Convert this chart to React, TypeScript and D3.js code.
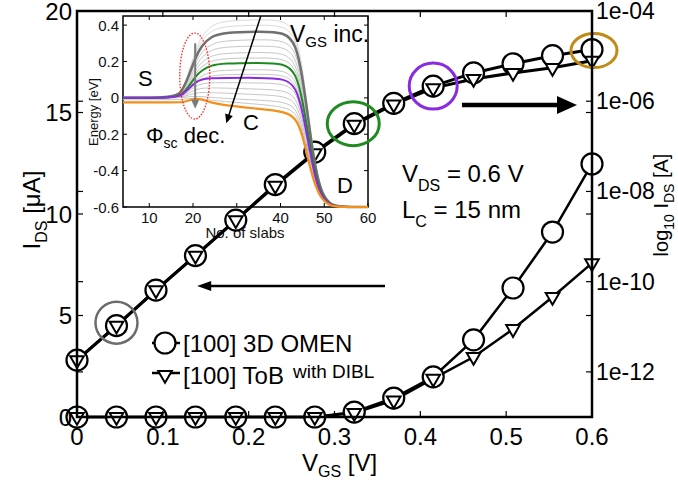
import React from 'react';
import * as d3 from 'd3';

// ---------- main chart data ----------
const vgs = [0, 0.046, 0.092, 0.138, 0.185, 0.231, 0.277, 0.323, 0.369, 0.415, 0.462, 0.508, 0.554, 0.6];
const omenLin = [2.8, 4.5, 6.25, 7.95, 9.7, 11.45, 13.05, 14.45, 15.45, 16.3, 16.95, 17.4, 17.8, 18.1];
const tobLin = [2.8, 4.5, 6.25, 7.95, 9.7, 11.4, 13.0, 14.4, 15.4, 16.2, 16.65, 16.95, 17.2, 17.55];
// log10 of I_DS [A]
const omenLog = [-13, -13, -13, -13, -13, -13, -13, -12.89, -12.58, -12.11, -11.29, -10.14, -8.9, -7.39];
const tobLog = [-13, -13, -13, -13, -13, -13, -13, -12.91, -12.63, -12.15, -11.67, -11.05, -10.34, -9.59];

const xTicks = [0, 0.1, 0.2, 0.3, 0.4, 0.5, 0.6];
const xTickLabels = ['0', '0.1', '0.2', '0.3', '0.4', '0.5', '0.6'];
const leftTicks = [0, 5, 10, 15, 20];
const rightTicks = [1e-4, 1e-6, 1e-8, 1e-10, 1e-12];
const rightTickLabels = ['1e-04', '1e-06', '1e-08', '1e-10', '1e-12'];

// ---------- inset data (energy band profiles) ----------
const slabN = [4, 16, 17.5, 19, 20.5, 22, 24, 27, 35, 41, 43.5, 45, 46.5, 48, 49.5, 51.5, 54, 60];
const grayCurves = [
  [0, 0, 0.043, 0.138, 0.258, 0.34, 0.396, 0.424, 0.43, 0.428, 0.358, 0.172, -0.116, -0.384, -0.528, -0.59, -0.6, -0.6],
  [0, 0, 0.04, 0.128, 0.24, 0.316, 0.368, 0.394, 0.4, 0.398, 0.33, 0.15, -0.13, -0.39, -0.53, -0.59, -0.6, -0.6],
  [0, 0, 0.032, 0.102, 0.192, 0.253, 0.294, 0.315, 0.32, 0.318, 0.256, 0.09, -0.168, -0.407, -0.536, -0.591, -0.6, -0.6],
  [0, 0, 0.029, 0.091, 0.171, 0.225, 0.262, 0.281, 0.285, 0.283, 0.223, 0.064, -0.184, -0.414, -0.538, -0.591, -0.6, -0.6],
  [0, 0, 0.025, 0.08, 0.15, 0.198, 0.23, 0.246, 0.25, 0.248, 0.19, 0.038, -0.2, -0.422, -0.54, -0.592, -0.6, -0.6],
  [0, 0, 0.022, 0.07, 0.132, 0.174, 0.202, 0.217, 0.22, 0.218, 0.163, 0.015, -0.215, -0.428, -0.543, -0.592, -0.6, -0.6],
  [0, 0, 0.016, 0.05, 0.093, 0.122, 0.143, 0.153, 0.155, 0.153, 0.102, -0.034, -0.245, -0.441, -0.547, -0.592, -0.6, -0.6],
  [0, 0, 0.013, 0.042, 0.078, 0.103, 0.12, 0.128, 0.13, 0.128, 0.079, -0.053, -0.257, -0.447, -0.549, -0.593, -0.6, -0.6],
  [0, 0, 0.01, 0.035, 0.065, 0.078, 0.083, 0.084, 0.082, 0.078, 0.036, -0.086, -0.278, -0.456, -0.552, -0.593, -0.6, -0.6],
  [0, 0, 0.008, 0.025, 0.045, 0.053, 0.055, 0.054, 0.048, 0.042, 0.005, -0.11, -0.294, -0.463, -0.554, -0.594, -0.6, -0.6],
  [0, 0, 0.005, 0.015, 0.026, 0.03, 0.029, 0.026, 0.018, 0.01, -0.025, -0.135, -0.31, -0.47, -0.556, -0.594, -0.6, -0.6],
  [0, 0, 0.002, 0.006, 0.008, 0.007, 0.003, -0.003, -0.012, -0.022, -0.055, -0.16, -0.33, -0.478, -0.558, -0.595, -0.6, -0.6],
  [-0.01, -0.01, -0.008, -0.004, -0.003, -0.006, -0.012, -0.02, -0.035, -0.05, -0.08, -0.18, -0.345, -0.484, -0.56, -0.595, -0.6, -0.6],
];
const darkGrayCurve = [0, 0, 0.037, 0.117, 0.219, 0.288, 0.336, 0.36, 0.365, 0.363, 0.297, 0.124, -0.146, -0.397, -0.532, -0.59, -0.6, -0.6];
const greenCurve = [0, 0, 0.019, 0.062, 0.116, 0.152, 0.178, 0.19, 0.193, 0.191, 0.137, -0.005, -0.227, -0.433, -0.544, -0.592, -0.6, -0.6];
const purpleCurve = [0, 0, 0.015, 0.05, 0.085, 0.103, 0.109, 0.11, 0.11, 0.108, 0.06, -0.068, -0.266, -0.451, -0.55, -0.593, -0.6, -0.6];
const orangeCurve = [-0.025, -0.025, -0.024, -0.015, -0.003, -0.008, -0.025, -0.04, -0.06, -0.075, -0.11, -0.2, -0.36, -0.49, -0.562, -0.596, -0.6, -0.6];
const insetXTicks = [10, 20, 30, 40, 50, 60];
const insetYTicks = [0.4, 0.2, 0, -0.2, -0.4, -0.6];
const insetYTickLabels = ['0.4', '0.2', '0', '-0.2', '-0.4', '-0.6'];

const FF = "'Liberation Sans', Arial, Helvetica, sans-serif";

function arrowParts(x1: number, y1: number, x2: number, y2: number, len: number, hw: number) {
  const dx = x2 - x1, dy = y2 - y1;
  const L = Math.hypot(dx, dy);
  const ux = dx / L, uy = dy / L;
  const bx = x2 - ux * len, by = y2 - uy * len;
  const px = -uy * hw, py = ux * hw;
  return {
    line: { x1, y1, x2: bx + ux * 1, y2: by + uy * 1 },
    head: `M${x2},${y2}L${bx + px},${by + py}L${bx - px},${by - py}Z`,
  };
}

export default function App() {
  const x = d3.scaleLinear().domain([0, 0.6]).range([77, 592]);
  const yL = d3.scaleLinear().domain([0, 20]).range([417, 11]);
  const yR = d3.scaleLog().domain([1e-13, 1e-4]).range([417, 11]);

  const xi = d3.scaleLinear().domain([4, 60]).range([123, 368]);
  const yi = d3.scaleLinear().domain([-0.6, 0.45]).range([207, 16]);

  const linLine = d3.line<number>().x((_, i) => x(vgs[i])).y((d) => yL(d));
  const logLine = d3.line<number>().x((_, i) => x(vgs[i])).y((d) => yR(Math.pow(10, d)));
  const bandLine = d3.line<number>().x((_, i) => xi(slabN[i])).y((d) => yi(d)).curve(d3.curveBasis);

  const tri = d3.symbol().type(d3.symbolTriangle).size(80)() as string;

  const circles = (vals: number[], yf: (v: number) => number, key: string) =>
    vals.map((v, i) => (
      <circle key={key + i} cx={x(vgs[i])} cy={yf(v)} r={10.5} fill="white" stroke="black" strokeWidth={2.2} />
    ));
  const tris = (vals: number[], yf: (v: number) => number, key: string) =>
    vals.map((v, i) => (
      <path key={key + i} d={tri} transform={`translate(${x(vgs[i])},${yf(v)}) rotate(180)`} fill="white" stroke="black" strokeWidth={2} />
    ));
  const yLog = (v: number) => yR(Math.pow(10, v));

  // annotation arrows (data coordinates)
  const rightArrow = arrowParts(x(0.4485), yL(15.37), x(0.5825), yL(15.37), 20, 9);
  const leftArrow = arrowParts(x(0.3588), yL(6.45), x(0.14), yL(6.45), 14, 5);
  const incArrow = arrowParts(xi(35.5), yi(0.45), xi(27.6), yi(-0.14), 9, 4);
  const grayArrow = arrowParts(xi(20.5), yi(0.3), xi(20.5), yi(-0.06), 9, 4);

  return (
    <svg width={678} height={480} style={{ position: 'absolute', left: 0, top: 0 }} fontFamily={FF}>
      <rect width={678} height={480} fill="white" />

      {/* ---------- inset axes and labels (under main data) ---------- */}
      <g>
        <rect x={xi(4)} y={yi(0.45)} width={xi(60) - xi(4)} height={yi(-0.6) - yi(0.45)} fill="none" stroke="black" strokeWidth={1.5} />
        {insetXTicks.map((t) => (
          <g key={'ixt' + t}>
            <line x1={xi(t)} x2={xi(t)} y1={yi(-0.6)} y2={yi(-0.6) - 4} stroke="black" strokeWidth={1} />
            <line x1={xi(t)} x2={xi(t)} y1={yi(0.45)} y2={yi(0.45) + 4} stroke="black" strokeWidth={1} />
            <text x={xi(t)} y={223} fontSize={15} textAnchor="middle" fill="#111">{t}</text>
          </g>
        ))}
        {insetYTicks.map((t, i) => (
          <g key={'iyt' + t}>
            <line x1={xi(4)} x2={xi(4) + 4} y1={yi(t)} y2={yi(t)} stroke="black" strokeWidth={1} />
            <line x1={xi(60)} x2={xi(60) - 4} y1={yi(t)} y2={yi(t)} stroke="black" strokeWidth={1} />
            <text x={119} y={yi(t)} fontSize={15} textAnchor="end" dominantBaseline="central" fill="#111">{insetYTickLabels[i]}</text>
          </g>
        ))}
        <text transform="translate(98,112) rotate(-90)" fontSize={13} textAnchor="middle" fill="#111">Energy [eV]</text>
        <text x={245} y={238} fontSize={15} textAnchor="middle" fill="#111">No. of slabs</text>
      </g>

      {/* ---------- main data ---------- */}
      <path d={logLine(omenLog) as string} fill="none" stroke="black" strokeWidth={2.5} />
      <path d={logLine(tobLog) as string} fill="none" stroke="black" strokeWidth={2.5} />
      <path d={linLine(omenLin) as string} fill="none" stroke="black" strokeWidth={3} />
      <path d={linLine(tobLin) as string} fill="none" stroke="black" strokeWidth={3} />
      {circles(omenLog, yLog, 'oc')}
      {tris(tobLog, yLog, 'ot')}
      {circles(omenLin, yL, 'lc')}
      {tris(tobLin, yL, 'lt')}

      {/* highlight rings */}
      <circle cx={x(vgs[1])} cy={yL(omenLin[1]) - 3} r={21} fill="none" stroke="#6b6b6b" strokeWidth={2.5} />
      <ellipse cx={x(vgs[7]) - 1} cy={yL(omenLin[7])} rx={26} ry={22} fill="none" stroke="#1f8a1f" strokeWidth={3} />
      <ellipse cx={x(vgs[9])} cy={yL(omenLin[9])} rx={24} ry={23} fill="none" stroke="#8a2be2" strokeWidth={3} />
      <ellipse cx={x(vgs[13]) + 2} cy={yL(omenLin[13]) + 1} rx={23} ry={17} fill="none" stroke="#c08a14" strokeWidth={3} />

      {/* ---------- inset curves ---------- */}
      <g fill="none">
        {grayCurves.map((c, i) => (
          <path key={'gc' + i} d={bandLine(c) as string} stroke={i < 2 ? '#dadada' : '#c6c6c6'} strokeWidth={1} />
        ))}
        <path d={bandLine(darkGrayCurve) as string} stroke="#707070" strokeWidth={2.5} />
        <path d={bandLine(greenCurve) as string} stroke="#1f8a1f" strokeWidth={2} />
        <path d={bandLine(purpleCurve) as string} stroke="#8a2be2" strokeWidth={2} />
        <path d={bandLine(orangeCurve) as string} stroke="#f39019" strokeWidth={2.2} />
      </g>
      <ellipse cx={xi(20.4)} cy={yi(0.12)} rx={15} ry={43} fill="none" stroke="#ff2020" strokeWidth={1.3} strokeDasharray="1.5 1.5" />
      <line {...grayArrow.line} stroke="#7a7a7a" strokeWidth={2} />
      <path d={grayArrow.head} fill="#7a7a7a" />
      <line {...incArrow.line} stroke="black" strokeWidth={1.5} />
      <path d={incArrow.head} fill="black" />
      <text x={290} y={42} fontSize={23} fill="black">V<tspan fontSize={15} dy={5}>GS</tspan><tspan dy={-5}> inc.</tspan></text>
      <text x={138} y={86} fontSize={22} fill="black">S</text>
      <text x={243} y={130} fontSize={22} fill="black">C</text>
      <text x={337} y={193} fontSize={22} fill="black">D</text>
      <text x={146} y={143} fontSize={22} fill="black">Φ<tspan fontSize={14} dy={5}>sc</tspan><tspan dy={-5}> dec.</tspan></text>

      {/* ---------- main axes ---------- */}
      <rect x={77} y={11} width={515} height={406} fill="none" stroke="black" strokeWidth={2.5} />
      {xTicks.map((t, i) => (
        <g key={'xt' + t}>
          <line x1={x(t)} x2={x(t)} y1={417} y2={411} stroke="black" strokeWidth={1.2} />
          <line x1={x(t)} x2={x(t)} y1={11} y2={17} stroke="black" strokeWidth={1.2} />
          <text x={x(t)} y={445} fontSize={24} textAnchor="middle" fill="black">{xTickLabels[i]}</text>
        </g>
      ))}
      {leftTicks.map((t) => (
        <g key={'lt' + t}>
          <line x1={77} x2={83} y1={yL(t)} y2={yL(t)} stroke="black" strokeWidth={1.2} />
          <line x1={592} x2={586} y1={yL(t)} y2={yL(t)} stroke="black" strokeWidth={1.2} />
          <text x={72} y={yL(t)} fontSize={24} textAnchor="end" dominantBaseline="central" fill="black">{t}</text>
        </g>
      ))}
      {rightTicks.map((t, i) => (
        <g key={'rt' + i}>
          <line x1={592} x2={586} y1={yR(t)} y2={yR(t)} stroke="black" strokeWidth={1.2} />
          <line x1={77} x2={83} y1={yR(t)} y2={yR(t)} stroke="black" strokeWidth={1.2} />
          <text x={596} y={yR(t)} fontSize={23} dominantBaseline="central" fill="black">{rightTickLabels[i]}</text>
        </g>
      ))}
      <text transform="translate(40,210) rotate(-90)" fontSize={24} textAnchor="middle" fill="black">
        I<tspan fontSize={16} dy={7}>DS</tspan><tspan dy={-7}> [μA]</tspan>
      </text>
      <text x={302} y={471} fontSize={24} fill="black">
        V<tspan fontSize={16} dy={6}>GS</tspan><tspan dy={-6}> [V]</tspan>
      </text>
      <text transform="translate(668,205) rotate(-90)" fontSize={20} textAnchor="middle" fill="black">
        log<tspan fontSize={14} dy={6}>10</tspan><tspan dy={-6}> I</tspan><tspan fontSize={14} dy={6}>DS</tspan><tspan dy={-6}> [A]</tspan>
      </text>

      {/* ---------- annotations ---------- */}
      <line {...rightArrow.line} stroke="black" strokeWidth={4.5} />
      <path d={rightArrow.head} fill="black" />
      <line {...leftArrow.line} stroke="black" strokeWidth={2.5} />
      <path d={leftArrow.head} fill="black" />
      <text x={402} y={182} fontSize={24} fill="black">V<tspan fontSize={16} dy={9}>DS</tspan><tspan dy={-9}> = 0.6 V</tspan></text>
      <text x={402} y={218} fontSize={24} fill="black">L<tspan fontSize={16} dy={9}>C</tspan><tspan dy={-9}> = 15 nm</tspan></text>

      {/* legend */}
      <line x1={152} x2={180} y1={343} y2={343} stroke="black" strokeWidth={2.5} />
      <circle cx={165} cy={343} r={10.5} fill="white" stroke="black" strokeWidth={2.2} />
      <text x={183} y={352} fontSize={24} fill="black">[100] 3D OMEN</text>
      <line x1={152} x2={180} y1={373} y2={373} stroke="black" strokeWidth={2.5} />
      <path d={tri} transform="translate(165,375) rotate(180)" fill="white" stroke="black" strokeWidth={2} />
      <text x={183} y={384} fontSize={24} fill="black">[100] ToB</text>
      <text x={293} y={378} fontSize={19} fill="black">with DIBL</text>
    </svg>
  );
}
